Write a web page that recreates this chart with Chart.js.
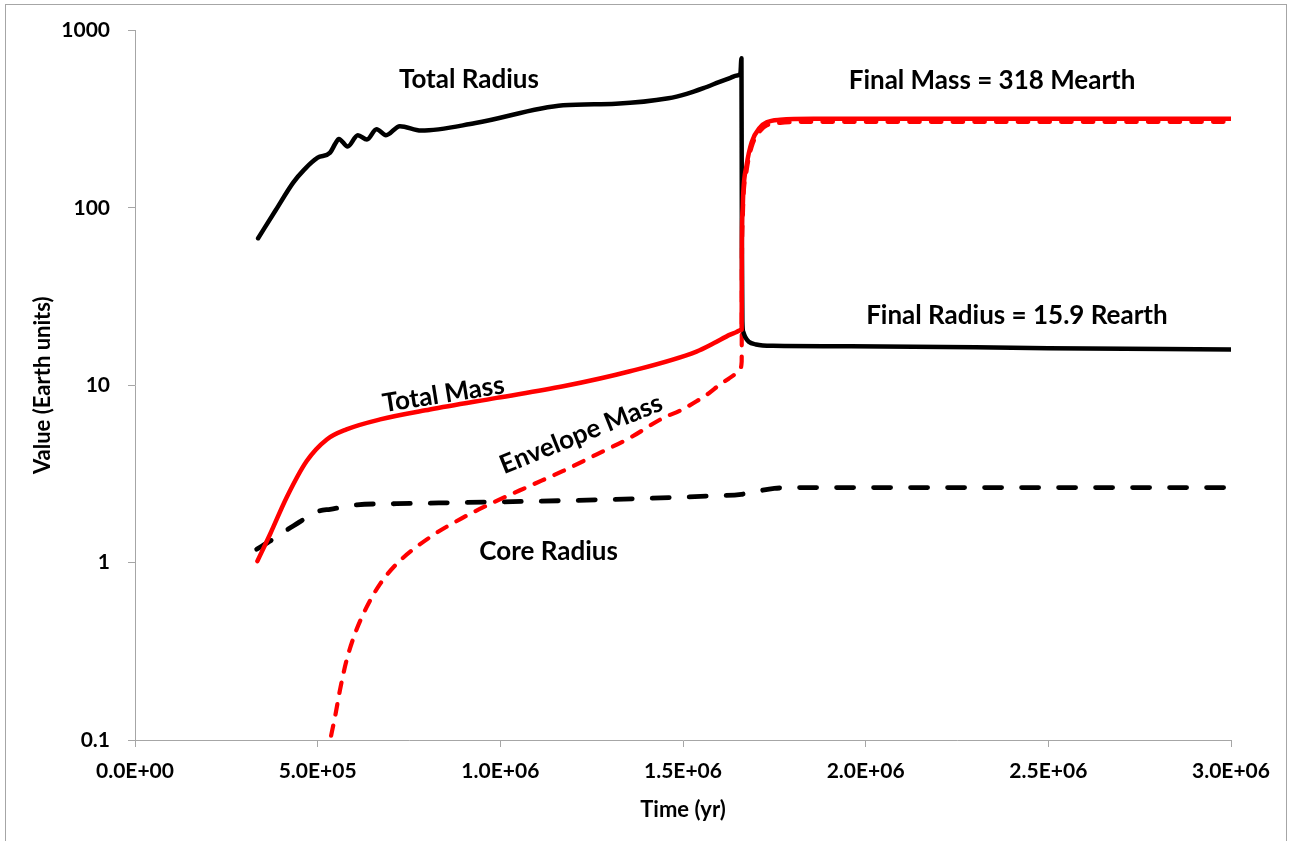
<!DOCTYPE html>
<html>
<head>
<meta charset="utf-8">
<title>Planet growth: radius and mass vs time</title>
<script src="https://cdn.jsdelivr.net/npm/chart.js@4.4.1/dist/chart.umd.min.js"></script>
<style>
  html, body { margin: 0; padding: 0; background: #ffffff; }
  #wrap { position: relative; width: 1290px; height: 841px; }
  canvas { display: block; }
</style>
</head>
<body>
<div id="wrap"><canvas id="chart" width="1290" height="841"></canvas></div>
<script>
// Time in years, values in Earth units (radius in R_earth, mass in M_earth)
const radiusTime = [337000, 385000, 433000, 462000, 500000, 534000, 548000, 558000, 582000, 610000,
  635000, 661000, 687000, 725000, 783000, 932000, 1172000, 1316000, 1460000, 1510000,
  1556000, 1600000, 1630000, 1648000, 1657000, 1660000, 1661200, 1662500, 1665000, 1670000,
  1680000, 1700000, 1746000, 1960000, 2500000, 3000000];
const radiusValue = [67.5, 97, 139, 163.5, 192, 205, 230, 245, 222, 257,
  243, 278, 257, 289, 273, 301, 379, 387, 415, 440,
  474, 514, 542, 559, 569, 698, 60, 23, 20, 18.8,
  17.6, 17.0, 16.7, 16.6, 16.2, 15.9];

const massTime = [335000, 370000, 415000, 470000, 525000, 579000, 671000, 807000, 990000, 1172000,
  1355000, 1537000, 1585000, 1629000, 1645000, 1656000, 1660600, 1661200, 1663400, 1665000,
  1674000, 1688000, 1711000, 1729000, 1766000, 1857000, 2039000, 3000000];
const massValue = [1.02, 1.45, 2.33, 3.74, 4.95, 5.64, 6.42, 7.30, 8.49, 9.87,
  12.0, 15.5, 17.3, 19.3, 19.9, 20.4, 20.6, 64, 99, 123,
  174, 235, 285, 304, 314, 318, 318, 318];

const envelopeTime = [528000, 534000, 547500, 561000, 579000, 602000, 634000, 671000, 716000, 807000,
  899000, 990000, 1081000, 1172000, 1264000, 1355000, 1446000, 1492000, 1537000, 1570000,
  1601000, 1625000, 1645000, 1657000, 1660600, 1661200, 1663400, 1665000, 1674000, 1688000,
  1711000, 1729000, 1766000, 1857000, 2039000, 3000000];
const envelopeValue = [0.08, 0.098, 0.135, 0.191, 0.281, 0.397, 0.561, 0.759, 0.983, 1.39,
  1.80, 2.23, 2.71, 3.29, 4.08, 5.06, 6.55, 7.2, 8.13, 9.0,
  10.1, 10.9, 11.7, 12.5, 13.6, 50, 85, 110, 162, 222,
  272, 292, 302, 306, 306, 306];

const coreTime = [333000, 374000, 433000, 506000, 534000, 607000, 716000, 990000, 1264000, 1583000,
  1660000, 1700000, 1750000, 1800000, 3000000];
const coreValue = [1.19, 1.34, 1.61, 1.96, 2.00, 2.12, 2.15, 2.20, 2.26, 2.38,
  2.43, 2.52, 2.62, 2.65, 2.65];

const xTicks = [0, 500000, 1000000, 1500000, 2000000, 2500000, 3000000];
const xTickLabels = ['0.0E+00', '5.0E+05', '1.0E+06', '1.5E+06', '2.0E+06', '2.5E+06', '3.0E+06'];
const yTicks = [0.1, 1, 10, 100, 1000];
const yTickLabels = ['0.1', '1', '10', '100', '1000'];

// Curve labels, anchored in data coordinates
const notes = [
  { text: 'Total Radius', t: 914000, v: 531, angle: 0 },
  { text: 'Final Mass = 318 Mearth', t: 2346000, v: 523, angle: 0 },
  { text: 'Final Radius = 15.9 Rearth', t: 2414000, v: 24.7, angle: 0 },
  { text: 'Total Mass', t: 844000, v: 8.89, angle: -9 },
  { text: 'Envelope Mass', t: 1221000, v: 5.31, angle: -22 },
  { text: 'Core Radius', t: 1132000, v: 1.153, angle: 0 }
];

const FONT = 'Lato, "Open Sans", "Liberation Sans", sans-serif';
const AXIS_GREY = '#a6a6a6';

const pairs = (ts, vs) => ts.map((t, i) => ({ x: t, y: vs[i] }));

const notesPlugin = {
  id: 'curveNotes',
  afterDatasetsDraw(chart) {
    const { ctx, scales } = chart;
    ctx.save();
    ctx.fillStyle = '#000000';
    ctx.font = 'bold 26px ' + FONT;
    ctx.textAlign = 'center';
    ctx.textBaseline = 'middle';
    notes.forEach(n => {
      const px = scales.x.getPixelForValue(n.t);
      const py = scales.y.getPixelForValue(n.v);
      ctx.save();
      ctx.translate(px, py);
      ctx.rotate(n.angle * Math.PI / 180);
      ctx.fillText(n.text, 0, 0);
      ctx.restore();
    });
    ctx.restore();
  }
};

const framePlugin = {
  id: 'frame',
  beforeDraw(chart) {
    const { ctx } = chart;
    ctx.save();
    ctx.fillStyle = '#ffffff';
    ctx.fillRect(0, 0, chart.width, chart.height);
    ctx.strokeStyle = AXIS_GREY;
    ctx.lineWidth = 1;
    ctx.strokeRect(5.5, 4.5, 1281, 860);
    ctx.restore();
  }
};

const lineStyle = {
  cubicInterpolationMode: 'monotone',
  borderCapStyle: 'round',
  borderJoinStyle: 'round',
  pointRadius: 0
};

new Chart(document.getElementById('chart'), {
  type: 'line',
  data: {
    datasets: [
      Object.assign({
        label: 'Total Mass',
        data: pairs(massTime, massValue),
        borderColor: '#ff0000',
        borderWidth: 4.5
      }, lineStyle),
      Object.assign({
        label: 'Total Radius',
        data: pairs(radiusTime, radiusValue),
        borderColor: '#000000',
        borderWidth: 4.5
      }, lineStyle),
      Object.assign({
        label: 'Envelope Mass',
        data: pairs(envelopeTime, envelopeValue),
        borderColor: '#ff0000',
        borderWidth: 4.2,
        borderDash: [10.5, 11.2]
      }, lineStyle),
      Object.assign({
        label: 'Core Radius',
        data: pairs(coreTime, coreValue),
        borderColor: '#000000',
        borderWidth: 4.8,
        borderDash: [17, 20]
      }, lineStyle)
    ]
  },
  options: {
    responsive: false,
    animation: false,
    devicePixelRatio: 1,
    layout: { padding: { left: 0, top: 28, right: 59, bottom: 0 } },
    plugins: {
      legend: { display: false },
      tooltip: { enabled: false }
    },
    scales: {
      x: {
        type: 'linear',
        min: 0,
        max: 3000000,
        afterBuildTicks(scale) { scale.ticks = xTicks.map(v => ({ value: v })); },
        afterFit(scale) { scale.height = 101; },
        grid: { display: true, drawOnChartArea: false, drawTicks: true, tickLength: 7, color: AXIS_GREY, lineWidth: 1 },
        border: { display: true, color: AXIS_GREY, width: 1 },
        ticks: {
          autoSkip: false,
          maxRotation: 0,
          padding: 12,
          color: '#000000',
          font: { family: FONT, size: 21, weight: 'bold' },
          callback: (v, i) => xTickLabels[i]
        },
        title: {
          display: true,
          text: 'Time (yr)',
          color: '#000000',
          font: { family: FONT, size: 22, weight: 'bold' },
          padding: { top: 0, bottom: 18 }
        }
      },
      y: {
        type: 'logarithmic',
        min: 0.1,
        max: 1000,
        afterBuildTicks(scale) { scale.ticks = yTicks.map(v => ({ value: v })); },
        afterFit(scale) { scale.width = 135; },
        grid: { display: true, drawOnChartArea: false, drawTicks: true, tickLength: 7, color: AXIS_GREY, lineWidth: 1 },
        border: { display: true, color: AXIS_GREY, width: 1 },
        ticks: {
          autoSkip: false,
          padding: 18,
          color: '#000000',
          font: { family: FONT, size: 21, weight: 'bold' },
          callback: (v, i) => yTickLabels[i]
        },
        title: {
          display: true,
          text: 'Value (Earth units)',
          color: '#000000',
          font: { family: FONT, size: 22, weight: 'bold' },
          padding: { top: 30, bottom: 0 }
        }
      }
    }
  },
  plugins: [framePlugin, notesPlugin]
});
</script>
</body>
</html>
